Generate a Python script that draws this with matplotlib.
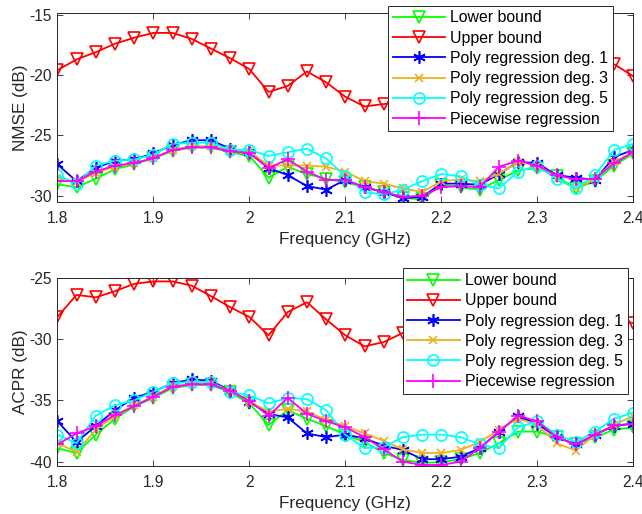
import numpy as np
import matplotlib
matplotlib.use("Agg")
import matplotlib.pyplot as plt

plt.rcParams['font.family'] = ['Liberation Sans', 'DejaVu Sans']
plt.rcParams['font.size'] = 10

freq = [1.80, 1.82, 1.84, 1.86, 1.88, 1.90, 1.92, 1.94, 1.96, 1.98, 2.00,
        2.02, 2.04, 2.06, 2.08, 2.10, 2.12, 2.14, 2.16, 2.18, 2.20,
        2.22, 2.24, 2.26, 2.28, 2.30, 2.32, 2.34, 2.36, 2.38, 2.40]

labels = ["Lower bound", "Upper bound", "Poly regression deg. 1",
          "Poly regression deg. 3", "Poly regression deg. 5", "Piecewise regression"]

# NMSE (dB)
lower_nmse = [-29.05, -29.3, -28.6, -27.8, -27.4, -26.9, -26.3, -26.0, -26.0, -26.4, -26.7,
              -28.5, -27.6, -28.2, -28.6, -28.9, -29.3, -29.7, -30.2, -30.3, -29.1,
              -29.3, -29.5, -28.7, -27.9, -27.7, -28.4, -29.4, -28.8, -27.5, -26.5]
upper_nmse = [-19.6, -18.7, -18.1, -17.4, -16.9, -16.5, -16.5, -17.0, -17.8, -18.6, -19.5,
              -21.4, -20.9, -19.7, -20.6, -21.8, -22.6, -22.4, -22.3, -22.0, -21.5,
              -21.2, -21.0, -20.5, -20.3, -20.0, -19.8, -19.5, -19.3, -19.1, -20.1]
deg1_nmse = [-27.4, -28.8, -27.7, -27.1, -27.0, -26.5, -25.8, -25.4, -25.4, -26.1, -26.4,
             -27.7, -28.3, -29.2, -29.5, -28.7, -29.3, -29.7, -30.2, -30.1, -29.0,
             -29.0, -29.1, -28.2, -27.2, -27.3, -28.3, -28.5, -28.7, -26.8, -26.2]
deg3_nmse = [-28.5, -28.9, -28.1, -27.6, -27.3, -26.9, -26.2, -25.9, -25.9, -26.2, -26.3,
             -27.5, -27.5, -27.5, -27.6, -28.0, -28.8, -29.0, -29.4, -29.7, -28.8,
             -28.65, -28.8, -28.2, -27.2, -27.5, -28.6, -29.4, -28.6, -27.2, -26.4]
deg5_nmse = [-28.3, -29.0, -27.5, -27.1, -27.0, -26.6, -25.7, -25.6, -25.6, -26.2, -26.2,
             -26.7, -26.4, -26.1, -26.9, -28.4, -29.7, -29.9, -29.5, -28.8, -28.2,
             -28.4, -29.1, -29.4, -28.0, -27.5, -28.6, -29.4, -28.3, -26.2, -25.7]
pw_nmse = [-28.8, -28.8, -28.0, -27.5, -27.3, -26.9, -26.2, -26.0, -26.0, -26.3, -26.5,
           -27.7, -27.0, -28.0, -28.7, -28.7, -29.3, -29.7, -30.1, -30.0, -29.3,
           -29.2, -29.3, -27.6, -27.1, -27.5, -28.3, -28.65, -28.6, -27.3, -26.4]

# ACPR (dB)
lower_acpr = [-38.9, -39.3, -37.8, -36.5, -35.5, -34.8, -34.0, -33.75, -33.75, -34.35, -35.25,
              -37.0, -35.8, -36.5, -37.1, -37.8, -38.4, -39.3, -39.85, -40.1, -40.05,
              -39.8, -39.3, -38.5, -37.55, -37.55, -38.0, -38.6, -38.0, -37.4, -37.2]
upper_acpr = [-28.2, -26.4, -26.6, -26.1, -25.5, -25.3, -25.3, -25.65, -26.5, -27.4, -28.2,
              -29.7, -27.8, -27.0, -28.4, -29.7, -30.6, -30.25, -29.5, -29.8, -29.5,
              -29.0, -28.8, -28.5, -28.5, -28.3, -28.5, -28.7, -28.5, -28.4, -28.7]
deg1_acpr = [-36.7, -38.4, -37.1, -35.8, -34.8, -34.3, -33.6, -33.3, -33.4, -34.2, -35.1,
             -36.1, -36.4, -37.7, -38.0, -37.8, -38.1, -38.7, -39.05, -39.8, -39.8,
             -39.6, -38.9, -37.55, -36.3, -36.9, -38.0, -38.6, -37.8, -37.1, -36.9]
deg3_acpr = [-38.5, -39.2, -37.4, -36.25, -35.4, -34.7, -33.8, -33.7, -33.6, -34.2, -35.1,
             -35.9, -35.7, -35.9, -36.6, -37.1, -37.7, -38.3, -39.0, -39.3, -39.3,
             -39.05, -38.4, -37.4, -36.5, -37.0, -38.5, -39.1, -37.8, -37.0, -36.25]
deg5_acpr = [-37.8, -38.5, -36.25, -35.4, -35.0, -34.3, -33.6, -33.5, -33.5, -34.3, -34.6,
             -35.25, -34.8, -34.9, -35.8, -37.8, -38.9, -38.8, -38.0, -37.8, -37.8,
             -38.0, -38.6, -38.9, -37.2, -36.7, -37.8, -38.4, -37.55, -36.5, -36.0]
pw_acpr = [-38.6, -37.7, -37.1, -36.2, -35.5, -34.7, -33.9, -33.7, -33.7, -34.2, -35.05,
           -36.25, -34.8, -36.1, -36.7, -37.2, -38.0, -39.0, -40.0, -40.27, -40.27,
           -40.0, -38.9, -37.55, -36.25, -36.7, -38.0, -38.6, -37.8, -37.05, -36.9]

xticks = [1.8, 1.9, 2.0, 2.1, 2.2, 2.3, 2.4]
xticklabels = ["1.8", "1.9", "2", "2.1", "2.2", "2.3", "2.4"]

styles = [
    dict(color=(0, 1, 0), marker='v', ms=9, mfc='none'),
    dict(color=(1, 0, 0), marker='v', ms=9, mfc='none'),
    dict(color=(0, 0, 1), marker=(6, 2, 0), ms=9),
    dict(color=(0.929, 0.694, 0.125), marker='x', ms=6),
    dict(color=(0, 1, 1), marker='o', ms=8, mfc='none'),
    dict(color=(1, 0, 1), marker='+', ms=10),
]

fig = plt.figure(figsize=(6.42, 5.14), dpi=100)
axcol = (0.15, 0.15, 0.15)

def setup(ax, series, ylabel, ylim, yticks, legend_anchor):
    for data, lab, st in zip(series, labels, styles):
        ax.plot(freq, data, label=lab, lw=1.3, mew=1.2, **st)
    ax.set_xlim(1.8, 2.4)
    ax.set_ylim(*ylim)
    ax.set_xticks(xticks)
    ax.set_xticklabels(xticklabels)
    ax.set_yticks(yticks)
    ax.set_yticklabels([str(v) for v in yticks])
    ax.tick_params(direction='in', top=True, right=True, colors=axcol, labelsize=11.2,
                   length=4, width=0.6)
    ax.tick_params(axis='x', pad=7)
    ax.tick_params(axis='y', pad=4)
    for s in ax.spines.values():
        s.set_color(axcol)
        s.set_linewidth(0.7)
    ax.set_xlabel("Frequency (GHz)", fontsize=12.3, color=axcol, labelpad=4)
    ax.set_ylabel(ylabel, fontsize=12.3, color=axcol, labelpad=1)
    leg = ax.legend(loc='upper left', bbox_to_anchor=legend_anchor,
                    bbox_transform=fig.transFigure, borderaxespad=0,
                    fancybox=False, framealpha=1, edgecolor=axcol,
                    fontsize=11.4, handlelength=3.3, labelspacing=0.33,
                    borderpad=0.3, handletextpad=0.36)
    leg.get_frame().set_linewidth(0.7)
    leg.set_zorder(10)

ax1 = fig.add_axes([0.0893, 0.6076, 0.8972, 0.3664])
setup(ax1, [lower_nmse, upper_nmse, deg1_nmse, deg3_nmse, deg5_nmse, pw_nmse],
      "NMSE (dB)", (-30.5, -14.88), [-30, -25, -20, -15], (0.604, 0.989))

ax2 = fig.add_axes([0.0893, 0.094, 0.8972, 0.3657])
setup(ax2, [lower_acpr, upper_acpr, deg1_acpr, deg3_acpr, deg5_acpr, pw_acpr],
      "ACPR (dB)", (-40.33, -25), [-40, -35, -30, -25], (0.627, 0.478))

fig.savefig("out.png", dpi=100)
